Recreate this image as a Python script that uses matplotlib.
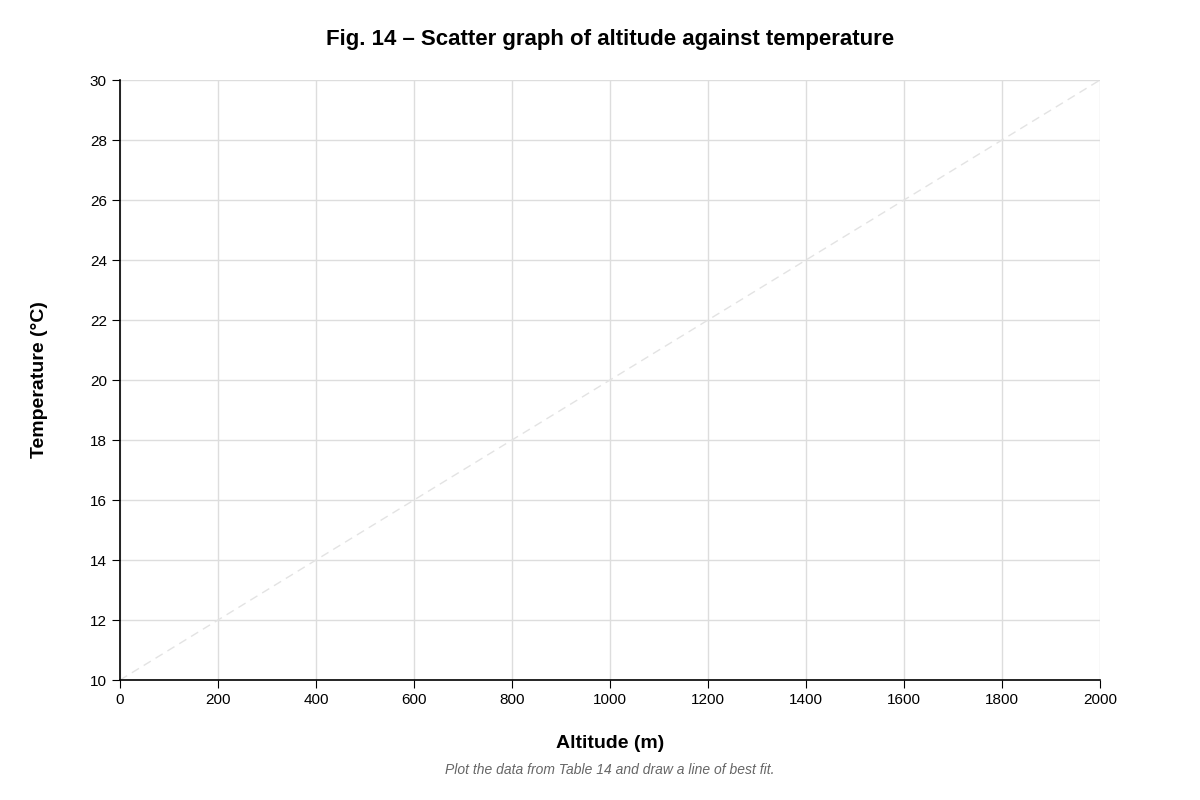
import matplotlib
matplotlib.use('Agg')
import matplotlib.pyplot as plt

plt.rcParams['font.family'] = ['Liberation Sans', 'DejaVu Sans']

# guide line (dashed diagonal)
guide_x = [0, 2000]
guide_y = [10, 30]
x_ticks = list(range(0, 2001, 200))
y_ticks = list(range(10, 31, 2))

fig = plt.figure(figsize=(12, 8), dpi=100)
ax = fig.add_axes([0.1, 0.15, 0.8167, 0.75])

ax.plot(guide_x, guide_y, linestyle=(0, (6, 4)), color='#e3e3e3', linewidth=1)

ax.set_xlim(0, 2000)
ax.set_ylim(10, 30)
ax.set_xticks(x_ticks)
ax.set_yticks(y_ticks)
ax.grid(True, color='#dddddd', linewidth=1)
ax.set_axisbelow(True)
for s in ['top', 'right']:
    ax.spines[s].set_visible(False)
for s in ['left', 'bottom']:
    ax.spines[s].set_color('black')
    ax.spines[s].set_linewidth(1.2)
ax.tick_params(labelsize=11, length=6, direction='out', colors='black')

ax.set_xlabel('Altitude (m)', fontsize=14, fontweight='bold', labelpad=20)
ax.set_ylabel('Temperature (°C)', fontsize=14, fontweight='bold', labelpad=30)
fig.text(0.508, 0.951, 'Fig. 14 – Scatter graph of altitude against temperature',
         ha='center', va='center', fontsize=16, fontweight='bold')
fig.text(0.508, 0.037, 'Plot the data from Table 14 and draw a line of best fit.',
         ha='center', va='center', fontsize=10, style='italic', color='#666666')

fig.savefig('out.png')
